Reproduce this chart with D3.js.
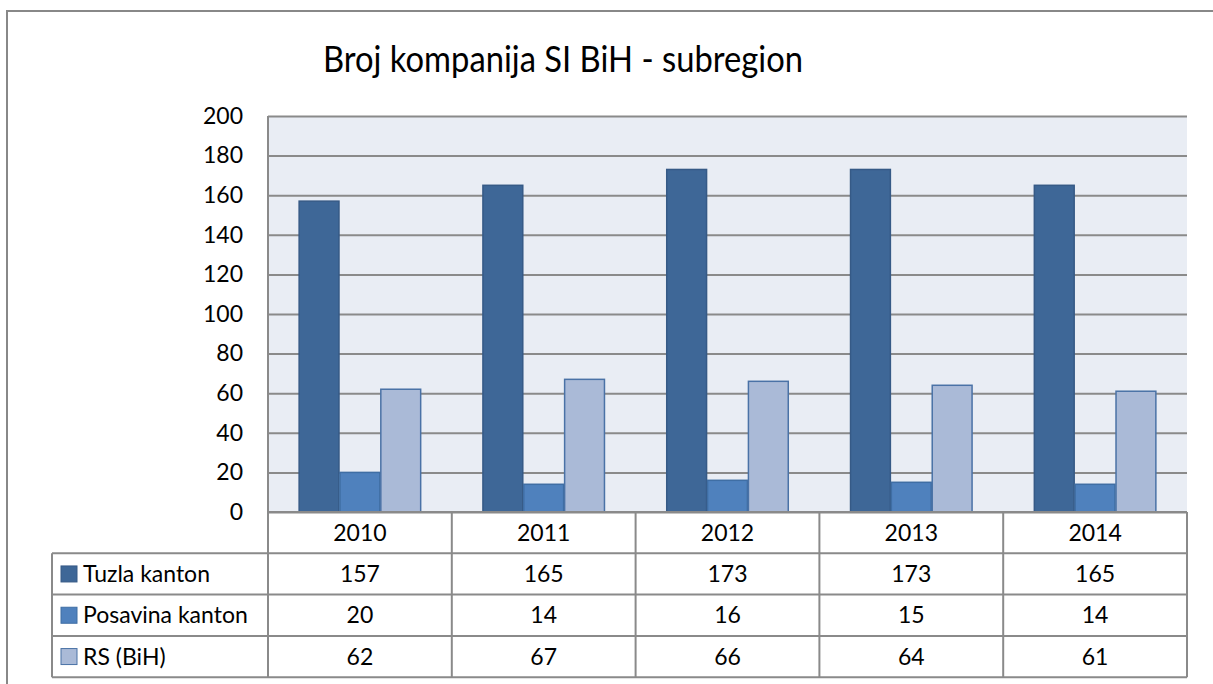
<!DOCTYPE html>
<html>
<head>
<meta charset="utf-8">
<script src="https://cdn.jsdelivr.net/npm/d3@7"></script>
<style>
  body { margin: 0; background: #fff; }
  svg { display: block; font-family: Lato, "Open Sans", sans-serif; }
</style>
</head>
<body>
<div id="chart"></div>
<script>
// Chart data
const years = ['2010', '2011', '2012', '2013', '2014'];
const seriesNames = ['Tuzla kanton', 'Posavina kanton', 'RS (BiH)'];
const tuzla = [157, 165, 173, 173, 165];
const posavina = [20, 14, 16, 15, 14];
const rs = [62, 67, 66, 64, 61];
const yTicks = [0, 20, 40, 60, 80, 100, 120, 140, 160, 180, 200];
const chartTitle = 'Broj kompanija SI BiH - subregion';

const seriesValues = [tuzla, posavina, rs];
const fills = ['#3E6797', '#4F81BD', '#AABAD7'];
const strokes = ['#365A86', '#3F6EA4', '#4A72A6'];

const width = 1213, height = 684;
const plot = {left: 268, right: 1187, top: 116, bottom: 512};
const rowH = 41.3;
const labelLeft = 52;
const gridColor = '#8A8A8A';
const fontSize = 23;

const svg = d3.select('#chart').append('svg')
  .attr('width', width)
  .attr('height', height);

// outer chart border (runs off the page on the right and bottom)
svg.append('rect')
  .attr('x', 7).attr('y', 11)
  .attr('width', width + 10).attr('height', height + 10)
  .attr('fill', '#fff')
  .attr('stroke', '#888')
  .attr('stroke-width', 2);

// title: Calibri is narrow, so squeeze to the reference width
svg.append('text')
  .attr('x', 563).attr('y', 72)
  .attr('text-anchor', 'middle')
  .attr('font-size', 37)
  .attr('textLength', 480)
  .attr('lengthAdjust', 'spacingAndGlyphs')
  .attr('fill', '#000')
  .text(chartTitle);

// scales
const x0 = d3.scaleBand().domain(years).range([plot.left, plot.right]).padding(0);
const x1 = d3.scaleBand().domain(seriesNames).range([0, x0.bandwidth()])
  .paddingInner(0).paddingOuter(0.75);
const y = d3.scaleLinear().domain([0, 200]).range([plot.bottom, plot.top]);

// plot background
svg.append('rect')
  .attr('x', plot.left).attr('y', plot.top)
  .attr('width', plot.right - plot.left).attr('height', plot.bottom - plot.top)
  .attr('fill', '#E9EDF4');

// y axis with gridlines
const yAxis = svg.append('g')
  .attr('transform', `translate(${plot.left},0)`)
  .call(d3.axisLeft(y).tickValues(yTicks).tickSize(-(plot.right - plot.left)).tickPadding(25));
yAxis.select('.domain').remove();
yAxis.selectAll('.tick line').attr('stroke', gridColor).attr('stroke-width', 2);
yAxis.selectAll('.tick text')
  .attr('fill', '#000')
  .attr('font-size', fontSize)
  .attr('font-family', 'Lato, "Open Sans", sans-serif');

// left edge of plot
svg.append('line')
  .attr('x1', plot.left).attr('x2', plot.left)
  .attr('y1', plot.top).attr('y2', plot.bottom)
  .attr('stroke', gridColor).attr('stroke-width', 2);

// bars
const groups = svg.append('g').selectAll('g')
  .data(years)
  .join('g')
  .attr('transform', d => `translate(${x0(d)},0)`);

groups.selectAll('rect')
  .data((d, i) => seriesNames.map((s, j) => ({s, j, v: seriesValues[j][i]})))
  .join('rect')
  .attr('x', d => x1(d.s) + 0.5)
  .attr('width', x1.bandwidth() - 1)
  .attr('y', d => y(d.v))
  .attr('height', d => y(0) - y(d.v))
  .attr('fill', d => fills[d.j])
  .attr('stroke', d => strokes[d.j])
  .attr('stroke-width', 1.5);

// data table
const table = svg.append('g');
const tableBottom = plot.bottom + rowH * (seriesNames.length + 1);
const tableStyle = sel => sel.attr('stroke', gridColor).attr('stroke-width', 2).attr('fill', 'none');

// horizontal lines
[0, 1, 2, 3, 4].forEach(r => {
  const yy = plot.bottom + rowH * r;
  table.append('line')
    .attr('x1', r === 0 ? plot.left : labelLeft).attr('x2', plot.right)
    .attr('y1', yy).attr('y2', yy)
    .call(tableStyle);
});
// vertical lines
table.append('line')
  .attr('x1', labelLeft).attr('x2', labelLeft)
  .attr('y1', plot.bottom + rowH).attr('y2', tableBottom)
  .call(tableStyle);
years.forEach(yr => {
  table.append('line')
    .attr('x1', x0(yr)).attr('x2', x0(yr))
    .attr('y1', plot.bottom).attr('y2', tableBottom)
    .call(tableStyle);
});
table.append('line')
  .attr('x1', plot.right).attr('x2', plot.right)
  .attr('y1', plot.bottom).attr('y2', tableBottom)
  .call(tableStyle);

// year header
table.selectAll('text.year')
  .data(years)
  .join('text')
  .attr('class', 'year')
  .attr('x', d => x0(d) + x0.bandwidth() / 2)
  .attr('y', plot.bottom + rowH / 2)
  .attr('dy', '0.35em')
  .attr('text-anchor', 'middle')
  .attr('font-size', fontSize)
  .text(d => d);

// series rows
seriesNames.forEach((name, j) => {
  const cy = plot.bottom + rowH * (j + 1.5);
  table.append('rect')
    .attr('x', 61).attr('y', cy - 8)
    .attr('width', 16).attr('height', 16)
    .attr('fill', fills[j])
    .attr('stroke', strokes[j])
    .attr('stroke-width', 1);
  table.append('text')
    .attr('x', 83).attr('y', cy)
    .attr('dy', '0.35em')
    .attr('font-size', fontSize)
    .text(name);
  table.selectAll(null)
    .data(seriesValues[j])
    .join('text')
    .attr('x', (d, i) => x0(years[i]) + x0.bandwidth() / 2)
    .attr('y', cy)
    .attr('dy', '0.35em')
    .attr('text-anchor', 'middle')
    .attr('font-size', fontSize)
    .text(d => d);
});
</script>
</body>
</html>
